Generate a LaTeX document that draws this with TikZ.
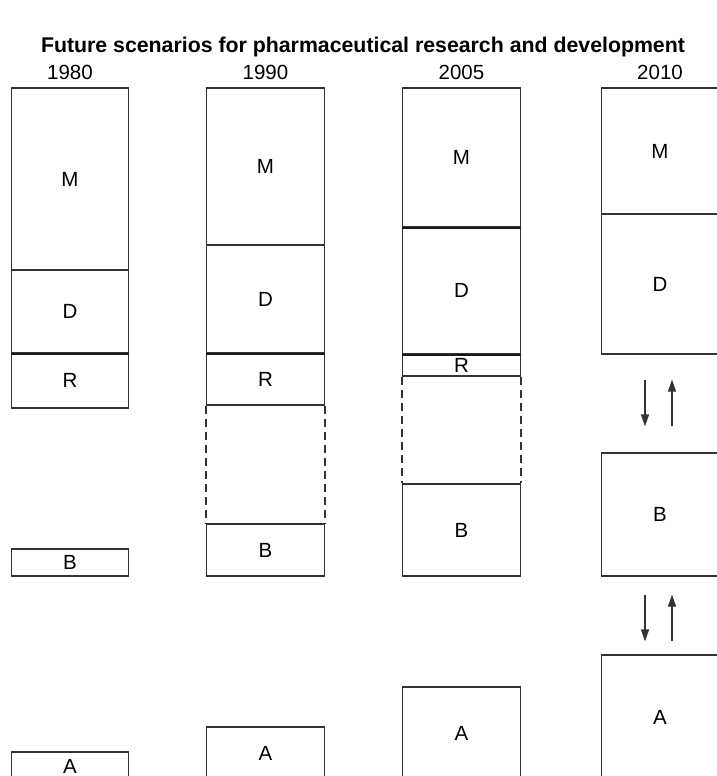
\documentclass[tikz,border=0pt]{standalone}
\usepackage{fontspec}
\setmainfont{Liberation Sans}
\usetikzlibrary{arrows.meta}

\begin{document}
\begin{tikzpicture}[x=1pt, y=-1pt,
   seg/.style={draw=black!80, line width=1.3pt, minimum width=117.5pt,
               inner sep=0pt, font=\fontsize{20.5}{24}\selectfont},
   year/.style={font=\fontsize{20.5}{24}\selectfont},
   sepline/.style={line width=2pt, black!90},
   gap/.style={draw=black!80, line width=1.3pt, dash pattern=on 8pt off 5pt},
   flow/.style={line width=1.3pt, black!80, -{Triangle[length=12pt,width=8pt]}}]
  \useasboundingbox (0,0) rectangle (717,776);
  \clip (0,0) rectangle (717,776);
  \node[font=\bfseries\fontsize{21.3}{25}\selectfont] (title) at (363,47)
    {Future scenarios for pharmaceutical research and development};

  % 1980
  \node[year] (y80) at (70,72) {1980};
  \node[seg, minimum height=182pt] (m80) at (70,179) {M};
  \node[seg, minimum height=83pt] (d80) at (70,311.5) {D};
  \node[seg, minimum height=55pt] (r80) at (70,380.5) {R};
  \node[seg, minimum height=27pt] (b80) at (70,562.5) {B};
  \node[seg, minimum height=28pt] (a80) at (70,766) {A};
  \draw[sepline] (d80.south west) -- (d80.south east);

  % 1990
  \node[year] (y90) at (265.5,72) {1990};
  \node[seg, minimum height=157pt] (m90) at (265.5,166.5) {M};
  \node[seg, minimum height=108pt] (d90) at (265.5,299) {D};
  \node[seg, minimum height=52pt] (r90) at (265.5,379) {R};
  \node[seg, minimum height=52pt] (b90) at (265.5,550) {B};
  \node[seg, minimum height=53pt] (a90) at (265.5,753.5) {A};
  \draw[sepline] (d90.south west) -- (d90.south east);
  \draw[gap] (r90.south west) -- (b90.north west);
  \draw[gap] (r90.south east) -- (b90.north east);

  % 2005
  \node[year] (y05) at (461.5,72) {2005};
  \node[seg, minimum height=139pt] (m05) at (461.5,157.5) {M};
  \node[seg, minimum height=127pt] (d05) at (461.5,290.5) {D};
  \node[seg, minimum height=22pt] (r05) at (461.5,365) {R};
  \node[seg, minimum height=92pt] (b05) at (461.5,530) {B};
  \node[seg, minimum height=93pt] (a05) at (461.5,733.5) {A};
  \draw[sepline] (m05.south west) -- (m05.south east);
  \draw[sepline] (d05.south west) -- (d05.south east);
  \draw[gap] (r05.south west) -- (b05.north west);
  \draw[gap] (r05.south east) -- (b05.north east);

  % 2010
  \node[year] (y10) at (660,72) {2010};
  \node[seg, minimum height=126pt] (m10) at (660,151) {M};
  \node[seg, minimum height=140pt] (d10) at (660,284) {D};
  \node[seg, minimum height=123pt] (b10) at (660,514.5) {B};
  \node[seg, minimum height=125pt] (a10) at (660,717.5) {A};
  \draw[flow] ([xshift=-15pt,yshift=-25pt]d10.south) -- ([xshift=-15pt,yshift=26pt]b10.north);
  \draw[flow] ([xshift=12pt,yshift=26pt]b10.north) -- ([xshift=12pt,yshift=-25pt]d10.south);
  \draw[flow] ([xshift=-15pt,yshift=-18pt]b10.south) -- ([xshift=-15pt,yshift=13pt]a10.north);
  \draw[flow] ([xshift=12pt,yshift=13pt]a10.north) -- ([xshift=12pt,yshift=-18pt]b10.south);
\end{tikzpicture}
\end{document}
